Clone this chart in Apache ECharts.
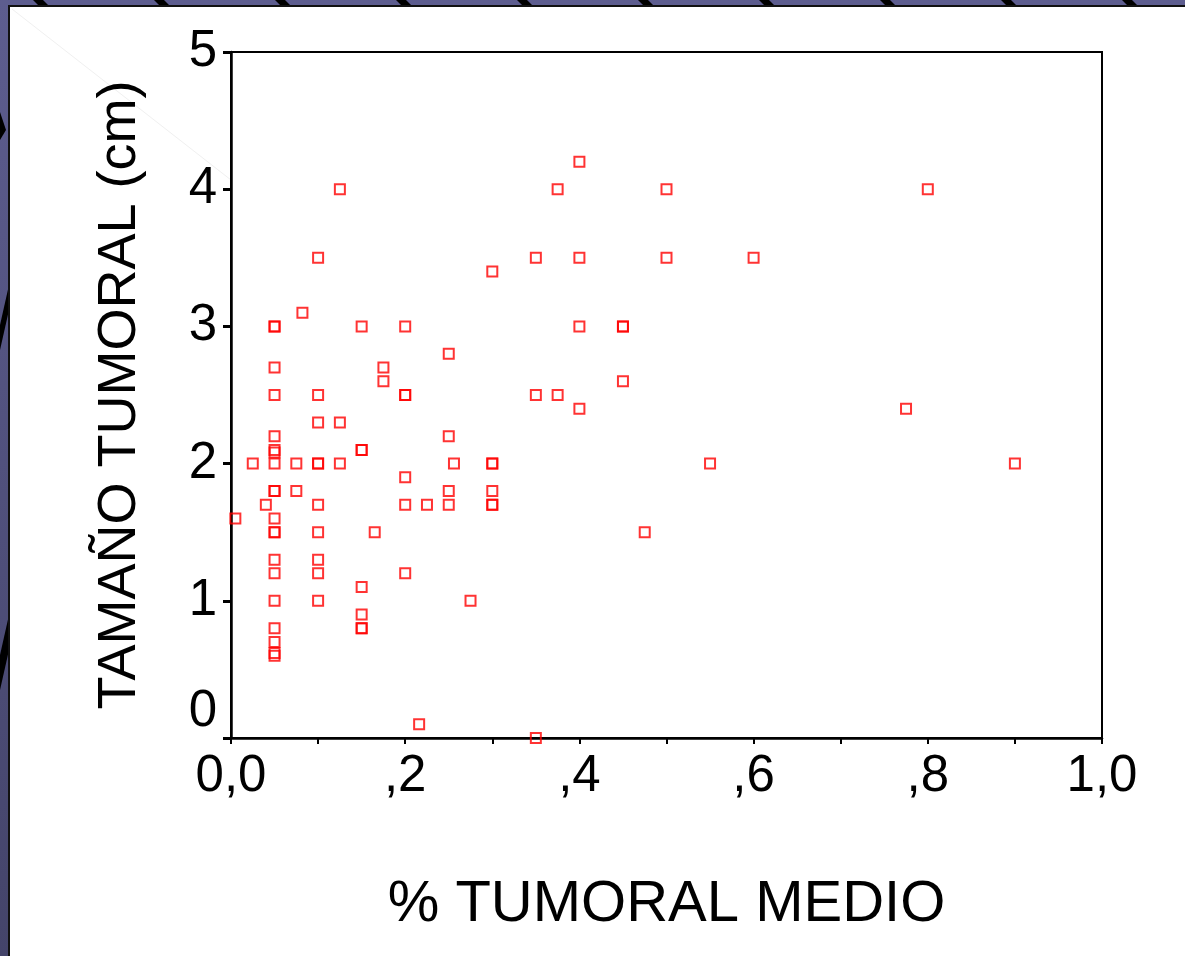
<!DOCTYPE html>
<html>
<head>
<meta charset="utf-8">
<title>Tamaño tumoral</title>
<script src="https://cdn.jsdelivr.net/npm/echarts@6/dist/echarts.min.js"></script>
<style>
  html, body { margin: 0; padding: 0; }
  #chart { width: 1185px; height: 956px; }
</style>
</head>
<body>
<div id="chart"></div>
<script>
  // % tumoral medio (x) y tamaño tumoral en cm (y)
  var pctTumoral = [
    0.005, 0.025, 0.04,
    0.05, 0.05, 0.05, 0.05, 0.05, 0.05, 0.05, 0.05, 0.05, 0.05,
    0.05, 0.05, 0.05, 0.05, 0.05, 0.05, 0.05, 0.05, 0.05, 0.05,
    0.075, 0.075, 0.082,
    0.1, 0.1, 0.1, 0.1, 0.1, 0.1, 0.1, 0.1, 0.1, 0.1,
    0.125, 0.125, 0.125,
    0.15, 0.15, 0.15, 0.15, 0.15, 0.15, 0.15,
    0.165, 0.175, 0.175,
    0.2, 0.2, 0.2, 0.2, 0.2, 0.2,
    0.216, 0.225,
    0.25, 0.25, 0.25, 0.25, 0.256, 0.275,
    0.3, 0.3, 0.3, 0.3, 0.3, 0.3,
    0.35, 0.35, 0.35, 0.375, 0.375,
    0.4, 0.4, 0.4, 0.4, 0.45, 0.45, 0.45, 0.475,
    0.5, 0.5, 0.55, 0.6, 0.775, 0.8, 0.9
  ];
  var tamanoTumoral = [
    1.6, 2.0, 1.7,
    3.0, 3.0, 2.7, 2.5, 2.2, 2.1, 2.08, 2.0, 1.8, 1.8,
    1.6, 1.5, 1.5, 1.3, 1.2, 1.0, 0.8, 0.7, 0.62, 0.6,
    2.0, 1.8, 3.1,
    3.5, 2.5, 2.3, 2.0, 2.0, 1.7, 1.5, 1.3, 1.2, 1.0,
    4.0, 2.3, 2.0,
    3.0, 2.1, 2.1, 1.1, 0.9, 0.8, 0.8,
    1.5, 2.7, 2.6,
    3.0, 2.5, 2.5, 1.9, 1.7, 1.2,
    0.1, 1.7,
    2.8, 2.2, 1.8, 1.7, 2.0, 1.0,
    3.4, 2.0, 2.0, 1.8, 1.7, 1.7,
    3.5, 2.5, 0.0, 4.0, 2.5,
    4.2, 3.5, 3.0, 2.4, 3.0, 3.0, 2.6, 1.5,
    4.0, 3.5, 2.0, 3.5, 2.4, 4.0, 2.0
  ];
  var xTickLabels = ['0,0', ',2', ',4', ',6', ',8', '1,0'];
  var yTickLabels = ['0', '1', '2', '3', '4', '5'];

  var points = pctTumoral.map(function (v, i) { return [v, tamanoTumoral[i]]; });

  var font = "'Liberation Sans', Arial, sans-serif";

  // fondo de la diapositiva (decoración)
  var deco = [
    { type: 'rect', z: -20, shape: { x: 0, y: 0, width: 1185, height: 956 },
      style: { fill: new echarts.graphic.LinearGradient(0, 0, 0, 1, [
        { offset: 0, color: '#5d5d8f' }, { offset: 1, color: '#44446a' }]) } },
    { type: 'polygon', z: -19, shape: { points: [[0, 112], [6, 130], [0, 140]] }, style: { fill: '#000' } },
    { type: 'polygon', z: -19, shape: { points: [[9, 285], [9, 310], [0, 350], [0, 325]] }, style: { fill: '#000' } },
    { type: 'polygon', z: -19, shape: { points: [[9, 615], [9, 650], [0, 690], [0, 655]] }, style: { fill: '#000' } },
    { type: 'rect', z: -18, shape: { x: 9, y: 6, width: 1180, height: 955 },
      style: { fill: '#fff', stroke: '#111', lineWidth: 2 } },
    { type: 'line', z: -17, shape: { x1: 12, y1: 9, x2: 231, y2: 180 },
      style: { stroke: '#f0f0f0', lineWidth: 1 } }
  ];
  for (var k = 0; k < 10; k++) {
    var sx = 33 + 121 * k;
    deco.push({ type: 'polygon', z: -19,
      shape: { points: [[sx, 0], [sx + 10, 0], [sx + 16, 6], [sx + 6, 6]] },
      style: { fill: '#000' } });
  }

  var chart = echarts.init(document.getElementById('chart'));
  chart.setOption({
    animation: false,
    graphic: deco,
    grid: {
      left: 231, top: 52, right: 83, bottom: 218,
      show: true, backgroundColor: '#fff', borderColor: '#000', borderWidth: 2
    },
    xAxis: {
      type: 'value', min: 0, max: 1, interval: 0.2,
      name: '% TUMORAL MEDIO', nameLocation: 'middle', nameGap: 138,
      nameTextStyle: { fontSize: 58, color: '#000', fontFamily: font },
      axisLine: { lineStyle: { color: '#000', width: 2.5 } },
      axisTick: { length: 6, lineStyle: { color: '#000', width: 2 } },
      minorTick: { show: true, splitNumber: 2, length: 6, lineStyle: { color: '#000', width: 2 } },
      splitLine: { show: false },
      axisLabel: {
        fontSize: 51, color: '#000', fontFamily: font, margin: 13,
        formatter: function (v) { return xTickLabels[Math.round(v / 0.2)]; }
      }
    },
    yAxis: {
      type: 'value', min: 0, max: 5, interval: 1,
      name: 'TAMAÑO TUMORAL (cm)', nameLocation: 'middle', nameGap: 84, nameRotate: 90,
      nameTextStyle: { fontSize: 54, color: '#000', fontFamily: font },
      axisLine: { show: true, lineStyle: { color: '#000', width: 2.5 } },
      axisTick: { show: true, length: 8, lineStyle: { color: '#000', width: 3 } },
      splitLine: { show: false },
      axisLabel: {
        fontSize: 51, color: '#000', fontFamily: font, margin: 14,
        formatter: function (v) {
          var s = yTickLabels[Math.round(v)];
          return v === 0 ? '{up|' + s + '}' : s;
        },
        rich: { up: { fontSize: 51, color: '#000', fontFamily: font, padding: [0, 0, 52, 0] } }
      }
    },
    series: [{
      type: 'scatter',
      data: points,
      symbol: 'rect',
      symbolSize: 10,
      clip: false,
      itemStyle: { color: 'rgba(255,255,255,0)', borderColor: '#ff0000', borderWidth: 2 }
    }]
  });
</script>
</body>
</html>
